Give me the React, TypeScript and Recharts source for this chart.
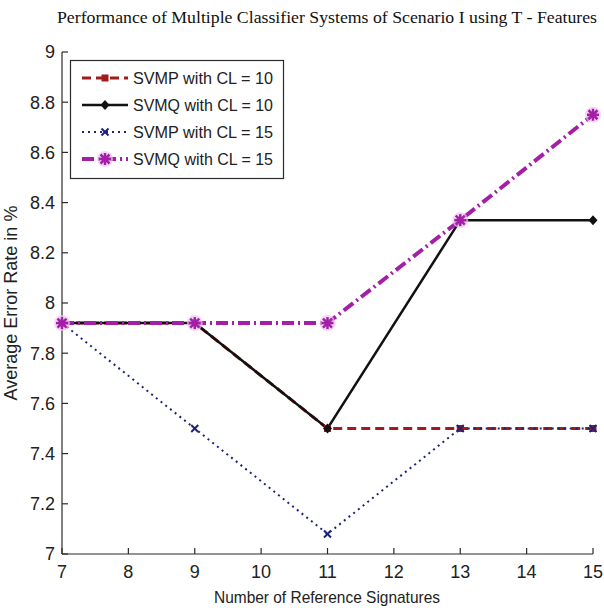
import { LineChart, Line, XAxis, YAxis, Legend } from 'recharts';

const refs = [7, 9, 11, 13, 15];
const svmp10 = [7.92, 7.92, 7.5, 7.5, 7.5];
const svmq10 = [7.92, 7.92, 7.5, 8.33, 8.33];
const svmp15 = [7.92, 7.5, 7.08, 7.5, 7.5];
const svmq15 = [7.92, 7.92, 7.92, 8.33, 8.75];

const xTicks = [7, 8, 9, 10, 11, 12, 13, 14, 15];
const yTicks = [7, 7.2, 7.4, 7.6, 7.8, 8, 8.2, 8.4, 8.6, 8.8, 9];

const data = refs.map((r, i) => ({
  refs: r,
  svmp10: svmp10[i],
  svmq10: svmq10[i],
  svmp15: svmp15[i],
  svmq15: svmq15[i],
}));

const AXIS = '#2b2b2b';
const SANS = "'Liberation Sans', Arial, sans-serif";

type MarkerKind = 'square' | 'diamond' | 'cross' | 'star';

const SERIES: { key: string; name: string; color: string; width: number; dash?: string; marker: MarkerKind }[] = [
  { key: 'svmp10', name: 'SVMP with CL = 10', color: '#a01c1c', width: 3, dash: '9 5', marker: 'square' },
  { key: 'svmq10', name: 'SVMQ with CL = 10', color: '#111111', width: 2.5, marker: 'diamond' },
  { key: 'svmp15', name: 'SVMP with CL = 15', color: '#1c237a', width: 2, dash: '2 4', marker: 'cross' },
  { key: 'svmq15', name: 'SVMQ with CL = 15', color: '#a41fa8', width: 4, dash: '12 4 2 4', marker: 'star' },
];

function Marker({ kind, cx, cy, color }: { kind: MarkerKind; cx: number; cy: number; color: string }) {
  if (kind === 'square') {
    return <rect x={cx - 3.5} y={cy - 3.5} width={7} height={7} fill={color} />;
  }
  if (kind === 'diamond') {
    return <polygon points={`${cx},${cy - 5} ${cx + 4.5},${cy} ${cx},${cy + 5} ${cx - 4.5},${cy}`} fill={color} />;
  }
  if (kind === 'cross') {
    const s = 3.5;
    return (
      <g stroke={color} strokeWidth={2}>
        <line x1={cx - s} y1={cy - s} x2={cx + s} y2={cy + s} />
        <line x1={cx - s} y1={cy + s} x2={cx + s} y2={cy - s} />
      </g>
    );
  }
  const s = 6;
  const d = 4.5;
  return (
    <g stroke={color} strokeWidth={2.5}>
      <circle cx={cx} cy={cy} r={8} fill="#f0c4f0" stroke="none" opacity={0.7} />
      <line x1={cx} y1={cy - s} x2={cx} y2={cy + s} />
      <line x1={cx - s} y1={cy} x2={cx + s} y2={cy} />
      <line x1={cx - d} y1={cy - d} x2={cx + d} y2={cy + d} />
      <line x1={cx - d} y1={cy + d} x2={cx + d} y2={cy - d} />
    </g>
  );
}

function BottomTick({ x, y, payload }: any) {
  return (
    <g>
      <line x1={x} y1={y} x2={x} y2={y - 6} stroke={AXIS} strokeWidth={1.2} />
      <text x={x} y={y + 24} textAnchor="middle" fontSize={18} fontFamily={SANS} fill="#222">
        {payload.value}
      </text>
    </g>
  );
}

function TopTick({ x, y }: any) {
  return <line x1={x} y1={y} x2={x} y2={y + 6} stroke={AXIS} strokeWidth={1.2} />;
}

function LeftTick({ x, y, payload }: any) {
  return (
    <g>
      <line x1={x} y1={y} x2={x + 6} y2={y} stroke={AXIS} strokeWidth={1.2} />
      <text x={x - 7} y={y} dy="0.36em" textAnchor="end" fontSize={18} fontFamily={SANS} fill="#222">
        {String(Math.round(payload.value * 10) / 10)}
      </text>
    </g>
  );
}

function RightTick({ x, y }: any) {
  return <line x1={x} y1={y} x2={x - 6} y2={y} stroke={AXIS} strokeWidth={1.2} />;
}

function LegendBox() {
  return (
    <svg width={214} height={119} style={{ display: 'block', overflow: 'visible' }}>
      <rect x={0.5} y={0.5} width={213} height={118} fill="#fff" stroke={AXIS} strokeWidth={1.2} />
      {SERIES.map((s, i) => {
        const cy = 18 + i * 27;
        return (
          <g key={s.key}>
            <line x1={12} y1={cy} x2={58} y2={cy} stroke={s.color} strokeWidth={s.width} strokeDasharray={s.dash} />
            <Marker kind={s.marker} cx={35} cy={cy} color={s.color} />
            <text x={63} y={cy} dy="0.36em" fontSize={16} fontFamily={SANS} fill="#222" textLength={140} lengthAdjust="spacingAndGlyphs">
              {s.name}
            </text>
          </g>
        );
      })}
    </svg>
  );
}

export default function App() {
  return (
    <div style={{ position: 'absolute', left: 0, top: 0, width: 604, height: 608, background: '#fff' }}>
      <LineChart width={604} height={608} data={data} margin={{ top: 52, right: 11, bottom: 0, left: 0 }}>
        <XAxis
          dataKey="refs"
          type="number"
          domain={[7, 15]}
          ticks={xTicks}
          height={54}
          tickSize={0}
          tickMargin={0}
          tickLine={false}
          stroke={AXIS}
          strokeWidth={1.2}
          tick={<BottomTick />}
          interval={0}
        />
        <XAxis
          xAxisId="top"
          orientation="top"
          dataKey="refs"
          type="number"
          domain={[7, 15]}
          ticks={xTicks}
          height={0}
          tickSize={0}
          tickMargin={0}
          tickLine={false}
          stroke={AXIS}
          strokeWidth={1.2}
          tick={<TopTick />}
          interval={0}
        />
        <YAxis
          type="number"
          domain={[7, 9]}
          ticks={yTicks}
          width={62}
          tickSize={0}
          tickMargin={0}
          tickLine={false}
          stroke={AXIS}
          strokeWidth={1.2}
          tick={<LeftTick />}
          interval={0}
        />
        <YAxis
          yAxisId="right"
          orientation="right"
          type="number"
          domain={[7, 9]}
          ticks={yTicks}
          width={0}
          tickSize={0}
          tickMargin={0}
          tickLine={false}
          stroke={AXIS}
          strokeWidth={1.2}
          tick={<RightTick />}
          interval={0}
        />
        {SERIES.map((s) => (
          <Line
            key={s.key}
            dataKey={s.key}
            name={s.name}
            stroke={s.color}
            strokeWidth={s.width}
            strokeDasharray={s.dash}
            isAnimationActive={false}
            dot={(p: any) => <Marker key={`${s.key}-${p.index}`} kind={s.marker} cx={p.cx} cy={p.cy} color={s.color} />}
            activeDot={false}
          />
        ))}
        <Legend
          layout="vertical"
          align="center"
          verticalAlign="middle"
          content={() => <LegendBox />}
          wrapperStyle={{ position: 'absolute', left: 70, top: 60, width: 214, height: 119 }}
        />
        <text x={327} y={23} textAnchor="middle" fontSize={17} fontFamily="'Liberation Serif', 'Times New Roman', serif" fill="#111" textLength={540} lengthAdjust="spacingAndGlyphs">
          Performance of Multiple Classifier Systems of Scenario I using T - Features
        </text>
        <text x={327} y={603} textAnchor="middle" fontSize={17} fontFamily={SANS} fill="#222" textLength={226} lengthAdjust="spacingAndGlyphs">
          Number of Reference Signatures
        </text>
        <text x={17} y={303} textAnchor="middle" fontSize={18} fontFamily={SANS} fill="#222" transform="rotate(-90 17 303)">
          Average Error Rate in %
        </text>
      </LineChart>
    </div>
  );
}
